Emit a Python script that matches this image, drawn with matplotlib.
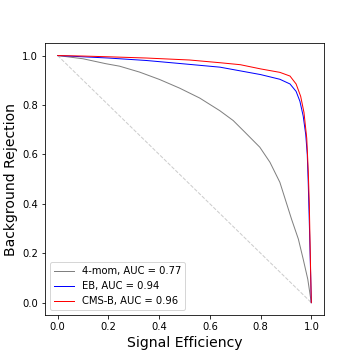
import matplotlib
matplotlib.use('Agg')
import matplotlib.pyplot as plt
import numpy as np

# ROC points (signal efficiency, background rejection)
mom_eff = [0, 0.1, 0.19, 0.244, 0.323, 0.402, 0.481, 0.56, 0.639, 0.692, 0.738, 0.797,
           0.837, 0.876, 0.897, 0.922, 0.949, 0.968, 0.986, 0.998, 1.0]
mom_rej = [1.0, 0.987, 0.967, 0.957, 0.933, 0.903, 0.868, 0.828, 0.777, 0.737, 0.69, 0.629,
           0.568, 0.487, 0.419, 0.338, 0.257, 0.176, 0.095, 0.013, 0.0]

eb_eff = [0, 0.1, 0.2, 0.35, 0.48, 0.64, 0.8, 0.876, 0.916, 0.94, 0.955, 0.968, 0.978, 0.984, 0.988, 0.992, 0.996, 1.0]
eb_rej = [1.0, 0.995, 0.99, 0.98, 0.968, 0.953, 0.923, 0.904, 0.885, 0.855, 0.815, 0.755, 0.68, 0.6, 0.48, 0.33, 0.17, 0.0]

cms_eff = [0, 0.1, 0.2, 0.35, 0.52, 0.64, 0.72, 0.8, 0.876, 0.916, 0.94, 0.958, 0.971, 0.982, 0.988, 0.992, 0.996, 1.0]
cms_rej = [1.0, 0.998, 0.995, 0.99, 0.982, 0.971, 0.963, 0.946, 0.932, 0.917, 0.885, 0.835, 0.77, 0.665, 0.53, 0.4, 0.19, 0.0]

labels = ['4-mom, AUC = 0.77', 'EB, AUC = 0.94', 'CMS-B, AUC = 0.96']

fig, ax = plt.subplots(figsize=(5, 5), dpi=72)

# random guess line
ax.plot([0, 1], [1, 0], '--', color='#cccccc', linewidth=1)

ax.plot(mom_eff, mom_rej, color='gray', linewidth=1, label=labels[0])
ax.plot(eb_eff, eb_rej, color='blue', linewidth=1, label=labels[1])
ax.plot(cms_eff, cms_rej, color='red', linewidth=1, label=labels[2])

ax.set_xlabel('Signal Efficiency', fontsize=14)
ax.set_ylabel('Background Rejection', fontsize=14)
ax.legend(loc='lower left', fontsize=10)

plt.subplots_adjust(left=0.125, right=0.9, top=0.88, bottom=0.125)
plt.savefig('out.png', dpi=72)
